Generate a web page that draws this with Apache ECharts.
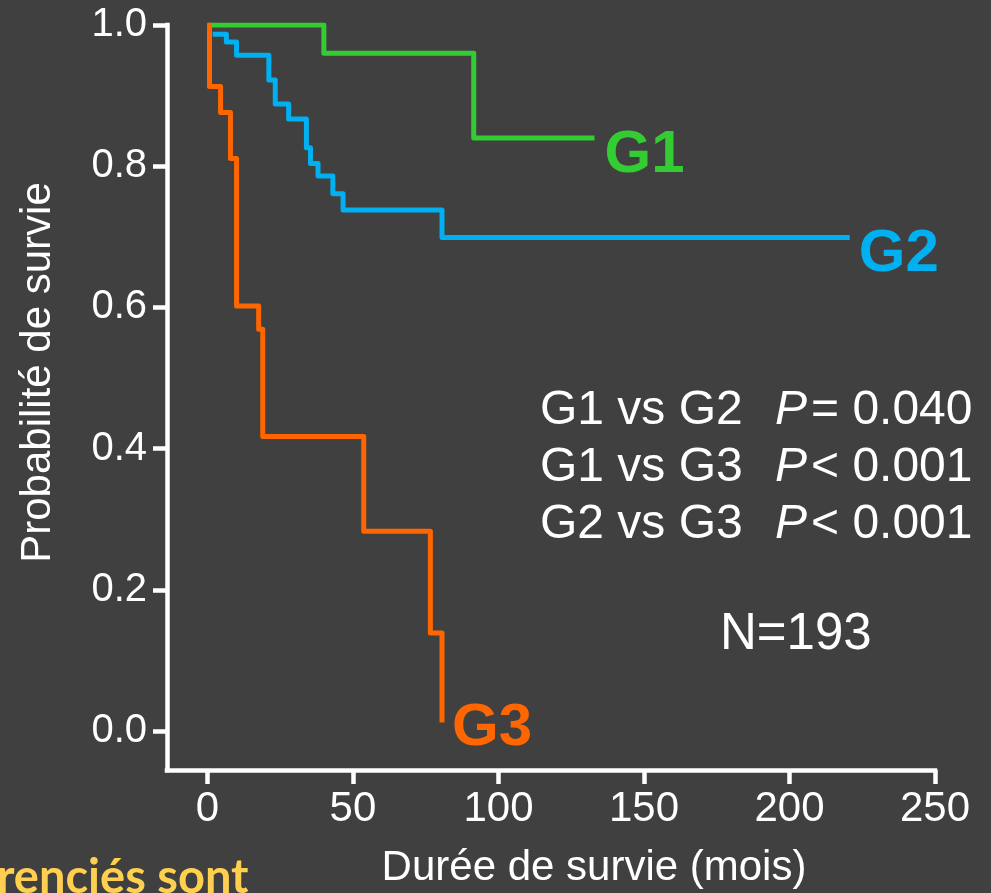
<!DOCTYPE html>
<html>
<head>
<meta charset="utf-8">
<script src="https://cdn.jsdelivr.net/npm/echarts@6/dist/echarts.min.js"></script>
<style>
  html, body { margin: 0; padding: 0; background: #404040; }
  #chart { width: 991px; height: 893px; }
</style>
</head>
<body>
<div id="chart"></div>
<script>
// Kaplan–Meier survival curves, one array pair per group: event time (months), survival after it
var g1Time = [0, 40, 91.5, 133];
var g1Surv = [1, 0.96, 0.84, 0.84];

var g2Time = [1.8, 6.5, 10, 21.1, 23.3, 27.9, 34, 35.4, 38, 43.1, 46.6, 80.6, 220.7];
var g2Surv = [0.987, 0.976, 0.957, 0.922, 0.888, 0.867, 0.826, 0.804, 0.786, 0.761, 0.738, 0.699, 0.699];

var g3Time = [0, 0.7, 4.5, 7.9, 10, 17.6, 19, 53.7, 76.6, 80.6];
var g3Surv = [1, 0.913, 0.876, 0.811, 0.602, 0.569, 0.417, 0.283, 0.139, 0.012];

var xTicks = [0, 50, 100, 150, 200, 250];
var yTicks = [0, 0.2, 0.4, 0.6, 0.8, 1.0];

var groupNames = ['G1', 'G2', 'G3'];
var groupColors = ['#33cc33', '#00b0f0', '#ff6600'];

var comparisons = [
  ['G1 vs G2', '=', '0.040'],
  ['G1 vs G3', '<', '0.001'],
  ['G2 vs G3', '<', '0.001']
];
var sampleSize = 'N=193';
var xTitle = 'Durée de survie (mois)';
var yTitle = 'Probabilité de survie';
var footerText = 'renciés sont';

function pairs(t, s) {
  return t.map(function (v, i) { return [v, s[i]]; });
}

var FONT = '"Liberation Sans", Arial, sans-serif';
var axisColor = '#ffffff';

var labelOffsets = [[2, 17], [1, 17], [2, 6]];

var series = [pairs(g1Time, g1Surv), pairs(g2Time, g2Surv), pairs(g3Time, g3Surv)].map(function (d, i) {
  return {
    type: 'line',
    step: 'end',
    data: d,
    showSymbol: false,
    silent: true,
    lineStyle: { color: groupColors[i], width: 5, join: 'round', cap: 'butt' },
    endLabel: {
      show: true,
      formatter: groupNames[i],
      color: groupColors[i],
      fontFamily: FONT,
      fontWeight: 'bold',
      fontSize: 60,
      distance: 8,
      offset: labelOffsets[i]
    },
    z: 2 + i
  };
});

var graphics = [];
comparisons.forEach(function (c, i) {
  var cy = 411 + i * 56.7;
  graphics.push({
    type: 'text', x: 540, y: cy,
    style: { text: c[0], fill: '#ffffff', font: '48px ' + FONT, align: 'left', verticalAlign: 'middle' }
  });
  graphics.push({
    type: 'text', x: 775, y: cy,
    style: {
      text: '{i|P}{n|' + c[1] + ' ' + c[2] + '}',
      align: 'left', verticalAlign: 'middle',
      rich: {
        i: { fontFamily: FONT, fontSize: 48, fontStyle: 'italic', fill: '#ffffff', color: '#ffffff', padding: [0, 4, 0, 0] },
        n: { fontFamily: FONT, fontSize: 48, fill: '#ffffff', color: '#ffffff' }
      }
    }
  });
});
graphics.push({
  type: 'text', x: 720, y: 635,
  style: { text: sampleSize, fill: '#ffffff', font: '51px ' + FONT, align: 'left', verticalAlign: 'middle' }
});
graphics.push({
  type: 'text', x: 594, y: 868,
  style: { text: xTitle, fill: '#ffffff', font: '42px ' + FONT, align: 'center', verticalAlign: 'middle' }
});
graphics.push({
  type: 'text', x: 38, y: 372.5, rotation: Math.PI / 2,
  style: { text: yTitle, fill: '#ffffff', font: '42px ' + FONT, align: 'center', verticalAlign: 'middle' }
});
graphics.push({
  type: 'text', x: -3, y: 878,
  style: { text: footerText, fill: '#ffcf50', font: 'bold 47px Lato, "Open Sans", sans-serif', align: 'left', verticalAlign: 'middle' }
});

var chart = echarts.init(document.getElementById('chart'), null, { renderer: 'canvas' });
chart.setOption({
  backgroundColor: '#404040',
  animation: false,
  grid: { left: 167, right: 56, top: 25, bottom: 123, containLabel: false },
  xAxis: {
    type: 'value',
    min: -13.9,
    max: 250,
    splitLine: { show: false },
    axisLine: { show: true, onZero: false, lineStyle: { color: axisColor, width: 4.5, cap: 'square' } },
    axisTick: { show: true, customValues: xTicks, length: 14, lineStyle: { color: axisColor, width: 4.5 } },
    axisLabel: { customValues: xTicks, color: axisColor, fontFamily: FONT, fontSize: 42, margin: 18 }
  },
  yAxis: {
    type: 'value',
    min: -0.0552,
    max: 1,
    splitLine: { show: false },
    axisLine: { show: true, onZero: false, lineStyle: { color: axisColor, width: 4.5, cap: 'square' } },
    axisTick: { show: true, customValues: yTicks, length: 14, lineStyle: { color: axisColor, width: 4.5 } },
    axisLabel: {
      customValues: yTicks, color: axisColor, fontFamily: FONT, fontSize: 40, margin: 20,
      formatter: function (v) { return v.toFixed(1); }
    }
  },
  series: series,
  graphic: graphics
});
</script>
</body>
</html>
